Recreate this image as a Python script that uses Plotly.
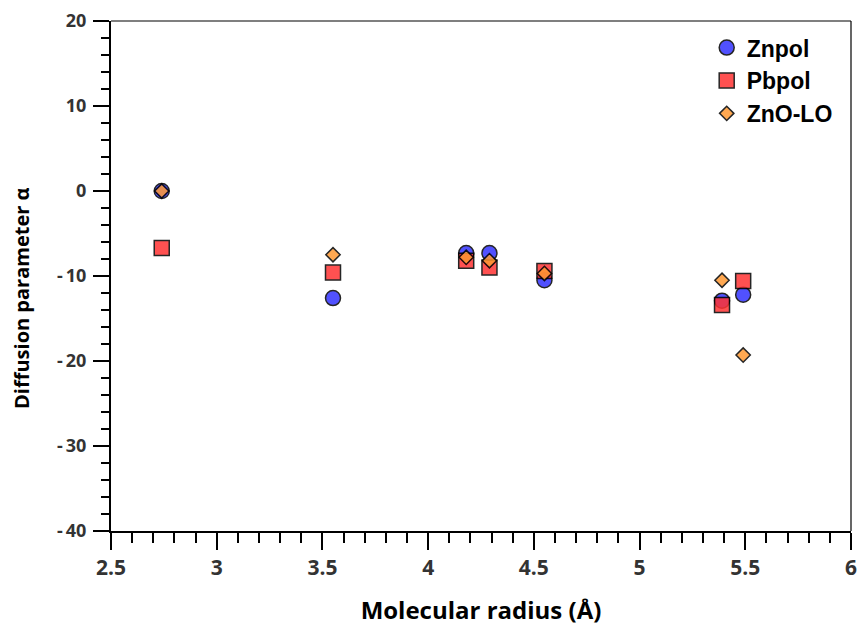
import plotly.graph_objects as go

radius = [2.74, 3.55, 4.18, 4.29, 4.55, 5.39, 5.49]
znpol = [0.0, -12.6, -7.3, -7.3, -10.5, -12.9, -12.2]
pbpol = [-6.7, -9.6, -8.2, -9.0, -9.4, -13.4, -10.6]
zno_lo = [0.0, -7.5, -7.8, -8.2, -9.7, -10.5, -19.3]

y_ticks = [20, 10, 0, -10, -20, -30, -40]
y_ticktext = ["20", "10", "0", "-\u200910", "-\u200920", "-\u200930", "-\u200940"]

fig = go.Figure()
fig.add_trace(go.Scatter(x=radius, y=znpol, mode="markers", name="Znpol",
                         marker=dict(symbol="circle", size=15, color="#3333ff", opacity=0.85,
                                     line=dict(color="black", width=1.5))))
fig.add_trace(go.Scatter(x=radius, y=pbpol, mode="markers", name="Pbpol",
                         marker=dict(symbol="square", size=15, color="#ff3333", opacity=0.85,
                                     line=dict(color="black", width=1.5))))
fig.add_trace(go.Scatter(x=radius, y=zno_lo, mode="markers", name="ZnO-LO",
                         marker=dict(symbol="diamond", size=11, color="#ff9933", opacity=0.85,
                                     line=dict(color="black", width=1.5))))

xtickfont = dict(family="Open Sans", size=21, color="#333333", weight="bold")
ytickfont = dict(family="Open Sans", size=18, color="#333333", weight="bold")

fig.update_layout(
    width=858, height=627,
    margin=dict(l=111, r=7, t=21, b=96),
    paper_bgcolor="white", plot_bgcolor="white",
    showlegend=True,
    legend=dict(x=0.805, y=0.99, xanchor="left", yanchor="top",
                font=dict(family="Liberation Sans", size=23, color="black", weight="bold"),
                bgcolor="rgba(0,0,0,0)", itemsizing="trace"),
    xaxis=dict(range=[2.5, 6], dtick=0.5, tick0=2.5, showgrid=False, zeroline=False,
               showline=True, linecolor="black", linewidth=2,
               ticks="outside", ticklen=17, tickwidth=1.5, tickcolor="black",
               minor=dict(dtick=0.1, ticks="outside", ticklen=10, tickwidth=1.5, tickcolor="black"),
               tickfont=xtickfont, ticklabeloverflow="allow", automargin=False,
               title=dict(text="Molecular radius (Å)",
                          font=dict(family="Open Sans", size=24, color="black", weight="bold"),
                          standoff=22)),
    yaxis=dict(range=[-40, 20], tickvals=y_ticks, ticktext=y_ticktext, showgrid=False, zeroline=False,
               showline=True, linecolor="black", linewidth=2,
               ticks="outside", ticklen=16, tickwidth=1.5, tickcolor="black",
               minor=dict(dtick=2, ticks="outside", ticklen=8, tickwidth=1.5, tickcolor="black"),
               tickfont=ytickfont, ticklabelstandoff=3, automargin=False),
    annotations=[
        dict(text="Diffusion parameter α", textangle=-90, xref="paper", yref="paper",
             x=0, y=0.455, xshift=-89, xanchor="center", yanchor="middle", showarrow=False,
             font=dict(family="Open Sans", size=20, color="black", weight="bold")),
    ],
    shapes=[
        dict(type="line", xref="paper", yref="paper", x0=0, x1=1, y0=1, y1=1,
             line=dict(color="black", width=1.2)),
        dict(type="line", xref="paper", yref="paper", x0=1, x1=1, y0=0, y1=1,
             line=dict(color="black", width=1.2)),
    ],
)

fig.write_html("out.html")
